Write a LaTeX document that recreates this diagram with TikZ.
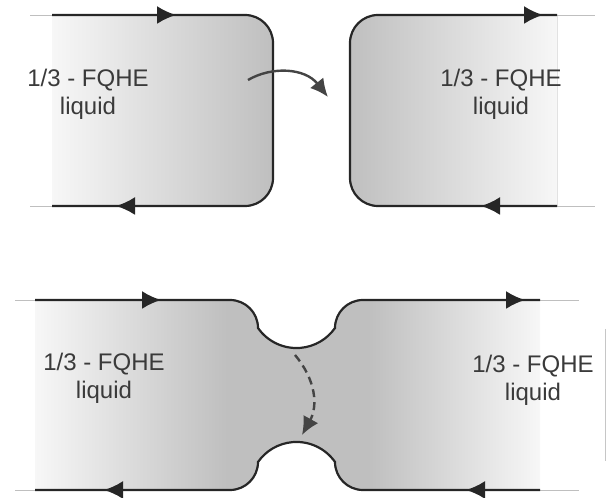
\documentclass[tikz,border=0pt]{standalone}
\usepackage{fontspec}
\setmainfont{Liberation Sans}
\usetikzlibrary{arrows.meta}
\definecolor{edgec}{HTML}{262626}
\definecolor{txtc}{HTML}{3A3A3A}
\definecolor{shadec}{HTML}{BFBFBF}
\definecolor{paler}{HTML}{F7F7F7}
\definecolor{arrc}{HTML}{444444}
\pgfdeclarehorizontalshading{neckshade}{100bp}{color(0bp)=(paler); color(25bp)=(paler); color(44bp)=(shadec); color(58bp)=(shadec); color(75bp)=(paler); color(100bp)=(paler)}
\tikzset{
  edge/.style={draw=edgec, line width=2.2pt},
  lead/.style={draw=gray!50, line width=0.8pt},
  tipend/.style={-{Latex[length=19pt,width=18pt]}},
  fqhe/.style={text=txtc, align=center, font=\fontsize{24}{28}\selectfont},
  hop/.style={draw=arrc, line width=2.4pt, -{Latex[length=18pt,width=17pt]}},
}
\begin{document}
\begin{tikzpicture}[x=1pt,y=1pt]
\useasboundingbox (0,0) rectangle (614,498);
% ---------- top left block ----------
\fill[left color=paler, right color=shadec] (52,292) -- (245,292) arc[start angle=270,end angle=360,radius=28] -- (273,455) arc[start angle=0,end angle=90,radius=28] -- (52,483) -- cycle;
\draw[lead] (30,483) -- (52,483);
\draw[lead] (30,292) -- (52,292);
\draw[edge] (52,483) -- (245,483) arc[start angle=90,end angle=0,radius=28] -- (273,320) arc[start angle=0,end angle=-90,radius=28] -- (52,292);
\draw[edge, tipend] (52,483) -- (176,483);
\draw[edge, tipend] (245,292) -- (116,292);
\node[fqhe] (tl) at (88,404) {1/3 - FQHE\\liquid};
% ---------- top right block ----------
\fill[left color=shadec, right color=paler] (557,483) -- (378,483) arc[start angle=90,end angle=180,radius=28] -- (350,320) arc[start angle=180,end angle=270,radius=28] -- (557,292) -- cycle;
\draw[lead] (557,483) -- (595,483);
\draw[lead] (557,292) -- (595,292);
\draw[edge] (557,483) -- (378,483) arc[start angle=90,end angle=180,radius=28] -- (350,320) arc[start angle=180,end angle=270,radius=28] -- (557,292);
\draw[edge, tipend] (378,483) -- (543,483);
\draw[edge, tipend] (557,292) -- (481,292);
\node[fqhe] (tr) at (501,404) {1/3 - FQHE\\liquid};
% tunnelling arrow (top)
\coordinate (hs) at (248,418);
\coordinate (he) at (328,401);
\draw[hop] (hs) .. controls (272,432) and (305,430) .. (he);
% ---------- bottom constriction ----------
\shade[shading=neckshade]
  (35,198) -- (230,198) arc[start angle=90,end angle=0,radius=28]
  arc[start angle=215,end angle=325,radius=47]
  arc[start angle=180,end angle=90,radius=28] -- (540,198) -- (540,8) -- (363,8)
  arc[start angle=270,end angle=180,radius=28]
  arc[start angle=35,end angle=145,radius=47]
  arc[start angle=0,end angle=-90,radius=28] -- (35,8) -- cycle;
\draw[lead] (15,198) -- (35,198);
\draw[lead] (540,198) -- (579,198);
\draw[lead] (15,8) -- (35,8);
\draw[lead] (540,8) -- (579,8);
\draw[edge] (35,198) -- (230,198) arc[start angle=90,end angle=0,radius=28]
  arc[start angle=215,end angle=325,radius=47]
  arc[start angle=180,end angle=90,radius=28] -- (540,198);
\draw[edge] (540,8) -- (363,8)
  arc[start angle=270,end angle=180,radius=28]
  arc[start angle=35,end angle=145,radius=47]
  arc[start angle=0,end angle=-90,radius=28] -- (35,8);
\draw[edge, tipend] (35,198) -- (161,198);
\draw[edge, tipend] (230,8) -- (104,8);
\draw[edge, tipend] (363,198) -- (525,198);
\draw[edge, tipend] (540,8) -- (466,8);
\node[fqhe] (bl) at (104,120) {1/3 - FQHE\\liquid};
\node[fqhe] (br) at (533,118) {1/3 - FQHE\\liquid};
% dashed tunnelling arrow
\coordinate (ds) at (295,143);
\coordinate (de) at (302,63);
\draw[hop, dash pattern=on 8pt off 5pt] (ds) .. controls (316,118) and (318,92) .. (de);
% thin vertical mark at right
\draw[draw=gray!45, line width=0.7pt] (605,169) -- (605,37);
\end{tikzpicture}
\end{document}
